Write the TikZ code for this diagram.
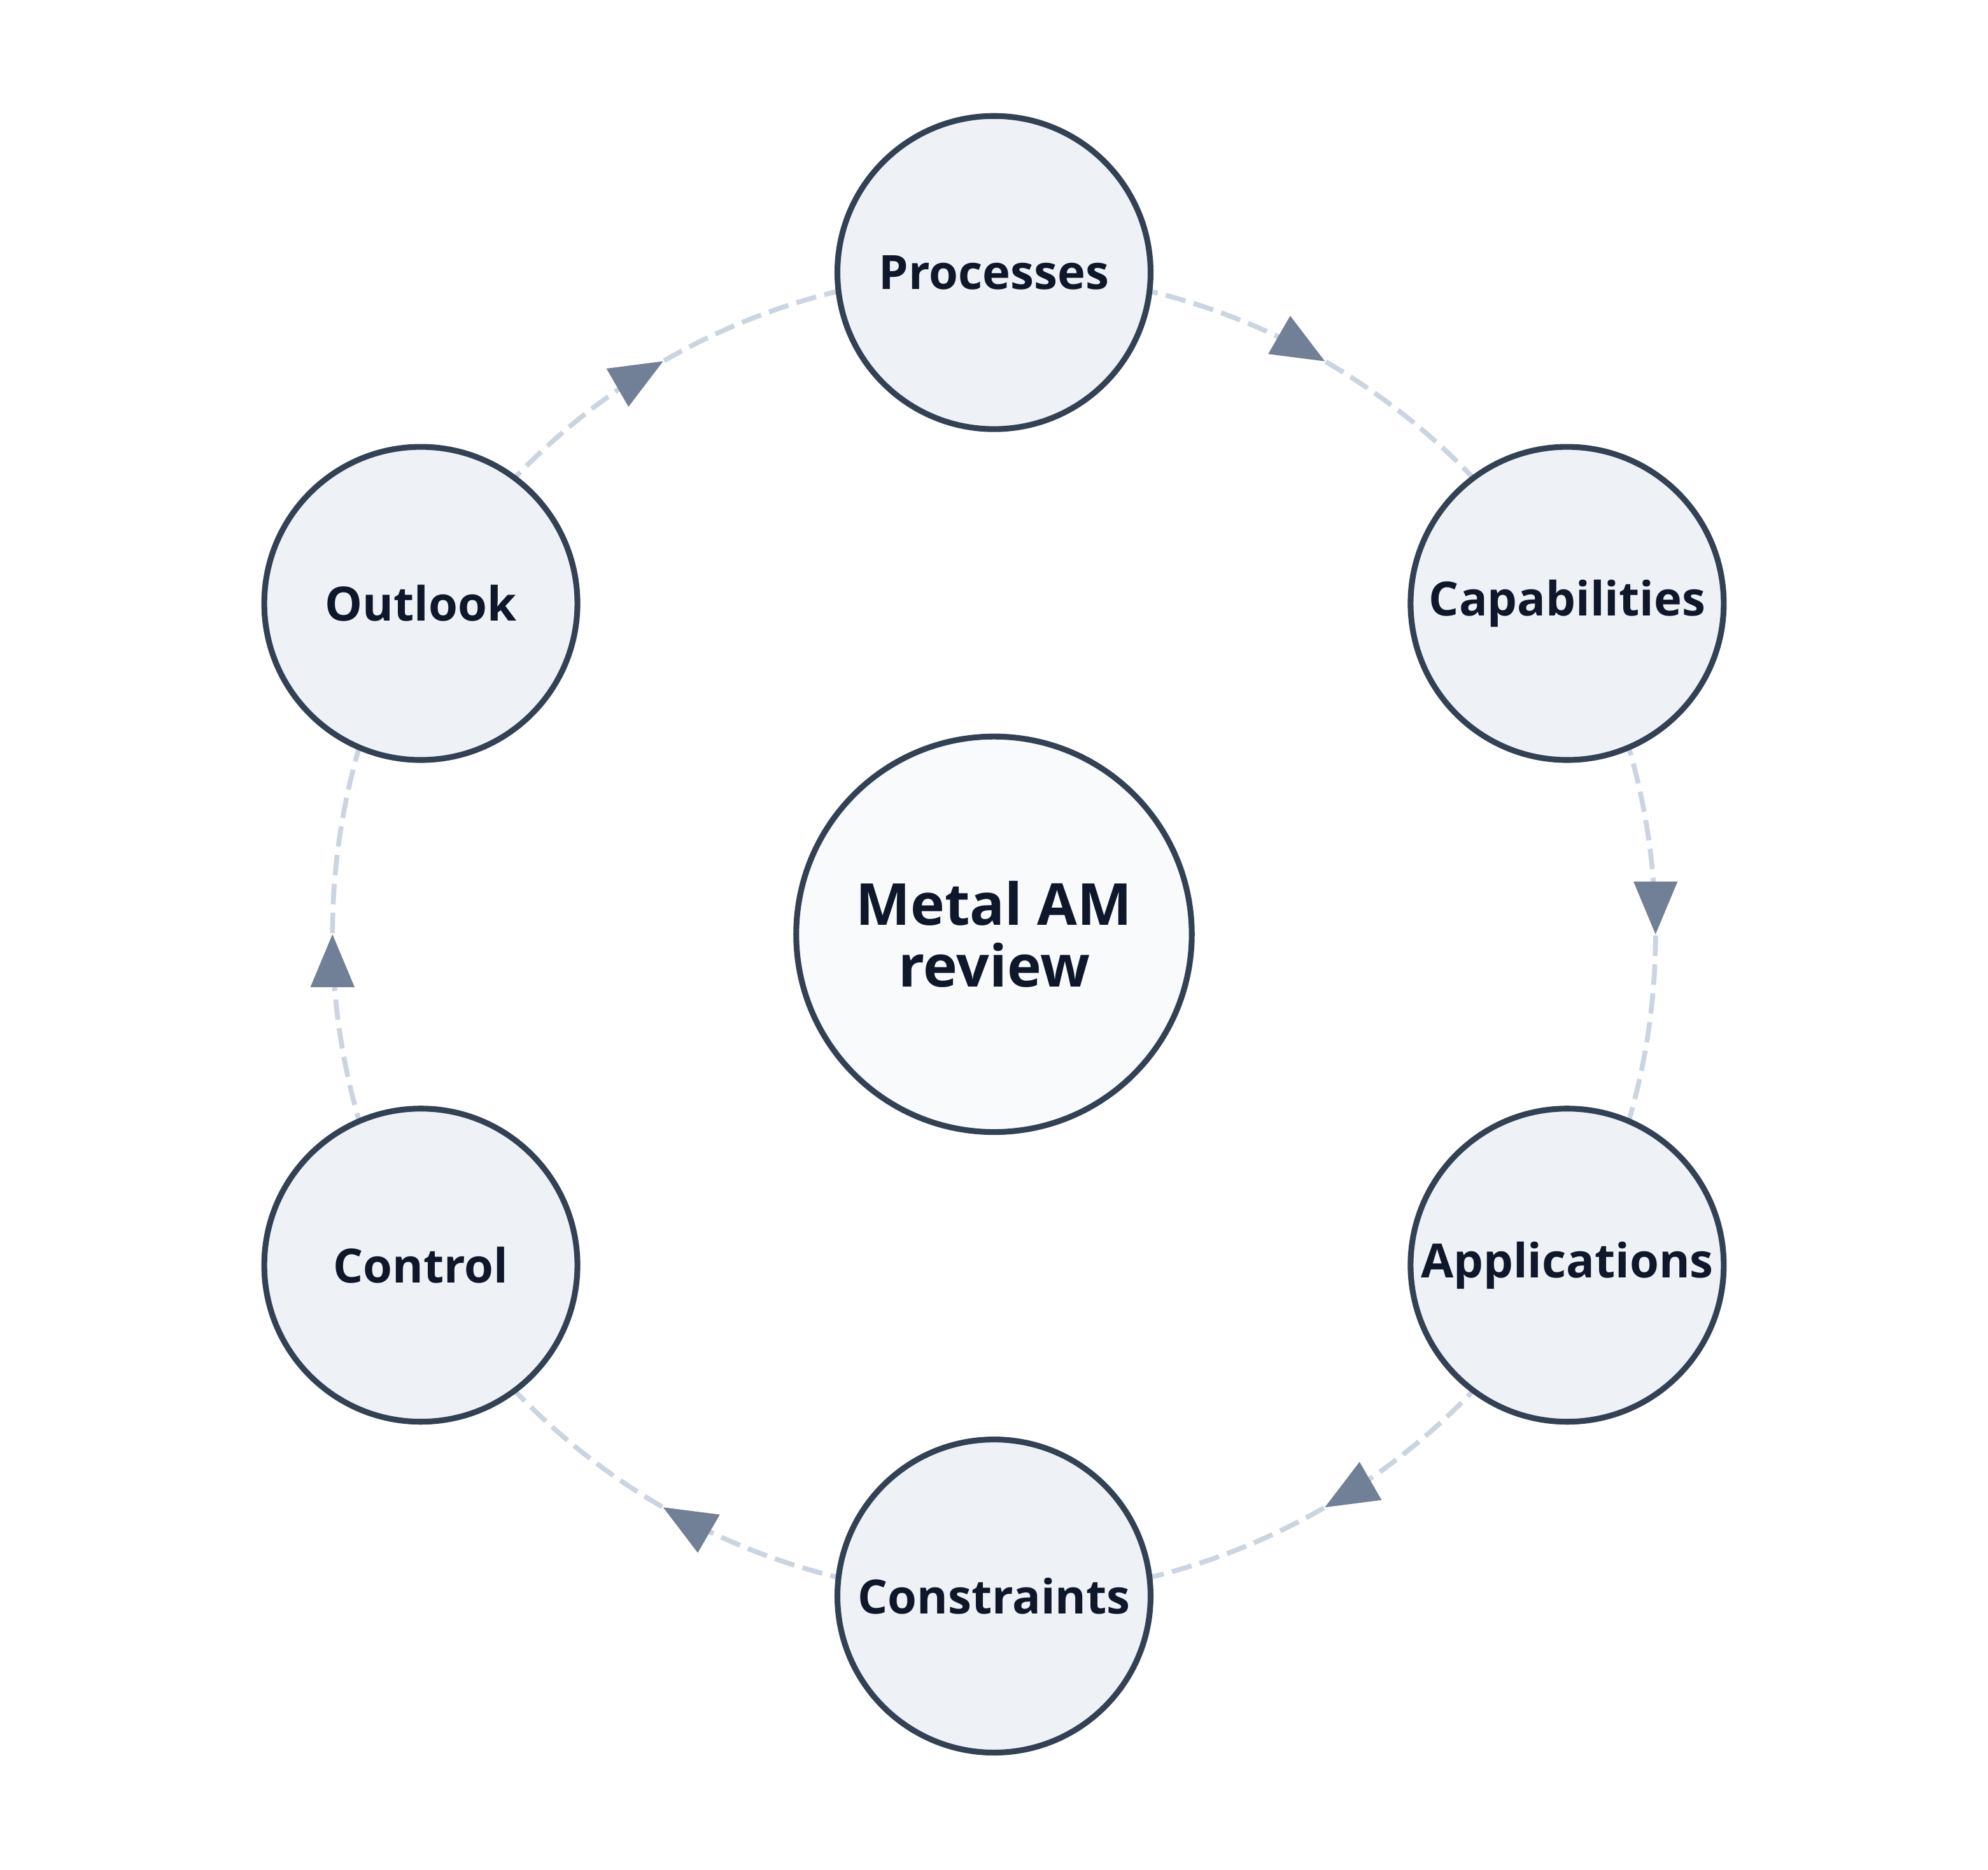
\documentclass[tikz,border=0pt]{standalone}
\usepackage{fontspec}
\setmainfont{Open Sans}
\definecolor{rimslate}{RGB}{51,65,85}
\definecolor{topicfill}{RGB}{238,242,247}
\definecolor{hubfill}{RGB}{248,250,252}
\definecolor{inkdark}{RGB}{15,23,42}
\definecolor{linkgray}{RGB}{203,213,225}
\definecolor{tipgray}{RGB}{113,128,150}
\usetikzlibrary{decorations.markings, backgrounds}

\begin{document}
\begin{tikzpicture}[font=\bfseries\fontsize{10.6}{12}\selectfont,text=inkdark,
        topic/.style={circle,draw=rimslate,line width=1.3pt,fill=topicfill,
                      minimum size=2.47cm,inner sep=0pt},
        hub/.style={topic,fill=hubfill,minimum size=3.12cm,align=center,
                    font=\bfseries\fontsize{13}{13.8}\selectfont},
        cyclink/.style={draw=linkgray,line width=1.1pt,dash pattern=on 4.6pt off 1.9pt,
                        bend left=30,looseness=0.913,postaction={decorate},
                        decoration={markings,mark=at position 0.5 with
                          {\fill[tipgray] (0,0) -- (-0.416,0.174) -- (-0.416,-0.174) -- cycle;}}}]
      \useasboundingbox (-7.84,-7.38) rectangle (7.84,7.37);
      \node[hub] (hub) at (0,0) {Metal AM\\review};
      \node[topic] (proc) at (90:5.22) {Processes};
      \node[topic] (capab) at (30:5.22) {Capabilities};
      \node[topic] (appl) at (-30:5.22) {Applications};
      \node[topic] (constr) at (-90:5.22) {Constraints};
      \node[topic] (ctrl) at (-150:5.22) {Control};
      \node[topic] (outl) at (150:5.22) {Outlook};
      % review cycle, clockwise
      \begin{scope}[on background layer]
        \foreach \from/\to in {proc/capab,capab/appl,appl/constr,constr/ctrl,ctrl/outl,outl/proc}
          \draw[cyclink] (\from.center) to (\to.center);
      \end{scope}
    \end{tikzpicture}
\end{document}
